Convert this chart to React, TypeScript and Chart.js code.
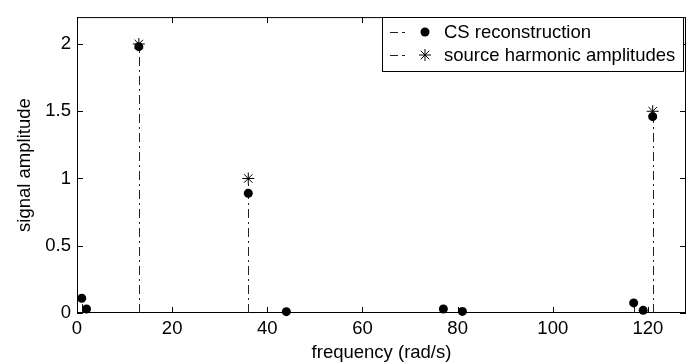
import React, { useEffect, useRef } from "react";
import { Chart, registerables } from "chart.js";

Chart.register(...registerables);

const csFreq = [1, 2, 13, 36, 44, 77, 81, 117, 119, 121];
const csAmp = [0.11, 0.03, 1.98, 0.89, 0.01, 0.03, 0.012, 0.075, 0.02, 1.46];
const srcFreq = [13, 36, 121];
const srcAmp = [2, 1, 1.5];
const xTicks = [0, 20, 40, 60, 80, 100, 120];
const yTicks = [0, 0.5, 1, 1.5, 2];
const legendLabels = ["CS reconstruction", "source harmonic amplitudes"];

const FONT = "'Liberation Sans', Arial, sans-serif";
const FSIZE = 18.5;
const DASH = [9, 4, 2, 4];

const stemPlugin = {
  id: "stems",
  beforeDatasetsDraw(chart: any) {
    const { ctx, scales } = chart;
    const x = scales.x;
    const y = scales.y;
    const y0 = y.getPixelForValue(0);
    ctx.save();
    ctx.strokeStyle = "#222";
    ctx.lineWidth = 1;
    ctx.setLineDash(DASH);
    chart.data.datasets.forEach((ds: any) => {
      ds.data.forEach((p: any) => {
        const px = Math.round(x.getPixelForValue(p.x)) + 0.5;
        const py = y.getPixelForValue(p.y);
        ctx.beginPath();
        ctx.moveTo(px, y0);
        ctx.lineTo(px, py);
        ctx.stroke();
      });
    });
    ctx.restore();
  },
};

const boxPlugin = {
  id: "box",
  beforeDatasetsDraw(chart: any) {
    const { ctx, chartArea, scales } = chart;
    const { left, right, top, bottom } = chartArea;
    ctx.save();
    ctx.strokeStyle = "#000";
    ctx.lineWidth = 1;
    ctx.setLineDash([]);
    ctx.strokeRect(left + 0.5, top + 0.5, right - left - 1, bottom - top - 1);
    const tl = 6;
    ctx.beginPath();
    xTicks.forEach((v) => {
      const px = Math.round(scales.x.getPixelForValue(v)) + 0.5;
      ctx.moveTo(px, bottom);
      ctx.lineTo(px, bottom - tl);
      ctx.moveTo(px, top);
      ctx.lineTo(px, top + tl);
    });
    yTicks.forEach((v) => {
      const py = Math.round(scales.y.getPixelForValue(v)) + 0.5;
      ctx.moveTo(left, py);
      ctx.lineTo(left + tl, py);
      ctx.moveTo(right, py);
      ctx.lineTo(right - tl, py);
    });
    ctx.stroke();
    ctx.restore();
  },
};

function drawMarker(ctx: CanvasRenderingContext2D, style: string, r: number, x: number, y: number) {
  ctx.save();
  ctx.fillStyle = "#000";
  ctx.strokeStyle = "#000";
  ctx.lineWidth = 1;
  ctx.setLineDash([]);
  if (style === "circle") {
    ctx.beginPath();
    ctx.arc(x, y, r, 0, Math.PI * 2);
    ctx.fill();
  } else {
    ctx.beginPath();
    for (let k = 0; k < 4; k++) {
      const a = (k * Math.PI) / 4;
      ctx.moveTo(x - Math.cos(a) * r, y - Math.sin(a) * r);
      ctx.lineTo(x + Math.cos(a) * r, y + Math.sin(a) * r);
    }
    ctx.stroke();
  }
  ctx.restore();
}

const legendPlugin = {
  id: "customLegendBox",
  afterDraw(chart: any) {
    const { ctx } = chart;
    const bx = 382.5, by = 17.5, bw = 301, bh = 54;
    ctx.save();
    ctx.fillStyle = "#fff";
    ctx.fillRect(bx, by, bw, bh);
    ctx.strokeStyle = "#000";
    ctx.lineWidth = 1;
    ctx.strokeRect(bx, by, bw, bh);
    const rows = [32, 55];
    rows.forEach((ry, i) => {
      ctx.strokeStyle = "#222";
      ctx.setLineDash([8, 4, 3, 20]);
      ctx.beginPath();
      ctx.moveTo(390, ry + 0.5);
      ctx.lineTo(416, ry + 0.5);
      ctx.stroke();
      ctx.setLineDash([]);
      const ds = chart.data.datasets[i];
      drawMarker(ctx, ds.pointStyle, ds.pointRadius, 425, ry);
      ctx.fillStyle = "#000";
      ctx.font = `${FSIZE}px ${FONT}`;
      ctx.textBaseline = "middle";
      ctx.textAlign = "left";
      ctx.fillText(legendLabels[i], 444, ry + 1);
    });
    ctx.restore();
  },
};

export default function App() {
  const ref = useRef<HTMLCanvasElement | null>(null);
  useEffect(() => {
    if (!ref.current) return;
    const chart = new Chart(ref.current, {
      type: "scatter",
      data: {
        datasets: [
          {
            label: legendLabels[0],
            data: csFreq.map((f, i) => ({ x: f, y: csAmp[i] })),
            pointStyle: "circle",
            pointRadius: 4.5,
            pointBackgroundColor: "#000",
            pointBorderColor: "#000",
            pointBorderWidth: 0,
            showLine: false,
            clip: false as any,
          },
          {
            label: legendLabels[1],
            data: srcFreq.map((f, i) => ({ x: f, y: srcAmp[i] })),
            pointStyle: "star",
            pointRadius: 6,
            pointBackgroundColor: "#000",
            pointBorderColor: "#000",
            pointBorderWidth: 1,
            showLine: false,
            clip: false as any,
          },
        ],
      },
      options: {
        animation: false,
        responsive: false,
        layout: { padding: { top: 6, right: 1, left: 0, bottom: 0 } },
        plugins: { legend: { display: false }, tooltip: { enabled: false } },
        scales: {
          x: {
            type: "linear",
            min: 0,
            max: 128,
            grid: { display: false, drawTicks: false },
            border: { display: false },
            afterBuildTicks: (s: any) => {
              s.ticks = xTicks.map((v) => ({ value: v }));
            },
            afterFit: (s: any) => {
              s.height = 51;
            },
            ticks: {
              color: "#000",
              font: { family: FONT, size: FSIZE },
              padding: 5,
              maxRotation: 0,
              autoSkip: false,
              callback: (v: any) => String(v),
            },
            title: {
              display: true,
              text: "frequency (rad/s)",
              color: "#000",
              font: { family: FONT, size: FSIZE },
              padding: { top: 0, bottom: 0 },
            },
          },
          y: {
            type: "linear",
            min: 0,
            max: 2.2,
            grid: { display: false, drawTicks: false },
            border: { display: false },
            afterBuildTicks: (s: any) => {
              s.ticks = yTicks.map((v) => ({ value: v }));
            },
            afterFit: (s: any) => {
              s.width = 77;
            },
            ticks: {
              color: "#000",
              font: { family: FONT, size: FSIZE },
              padding: 6,
              autoSkip: false,
              callback: (v: any) => String(v),
            },
            title: {
              display: true,
              text: "signal amplitude",
              color: "#000",
              font: { family: FONT, size: FSIZE },
              padding: { top: 14, bottom: 0 },
            },
          },
        },
      },
      plugins: [boxPlugin, stemPlugin, legendPlugin],
    });
    return () => chart.destroy();
  }, []);
  return (
    <div style={{ position: "absolute", left: 0, top: 0, width: 693, height: 364 }}>
      <canvas ref={ref} width={693} height={364} />
    </div>
  );
}
